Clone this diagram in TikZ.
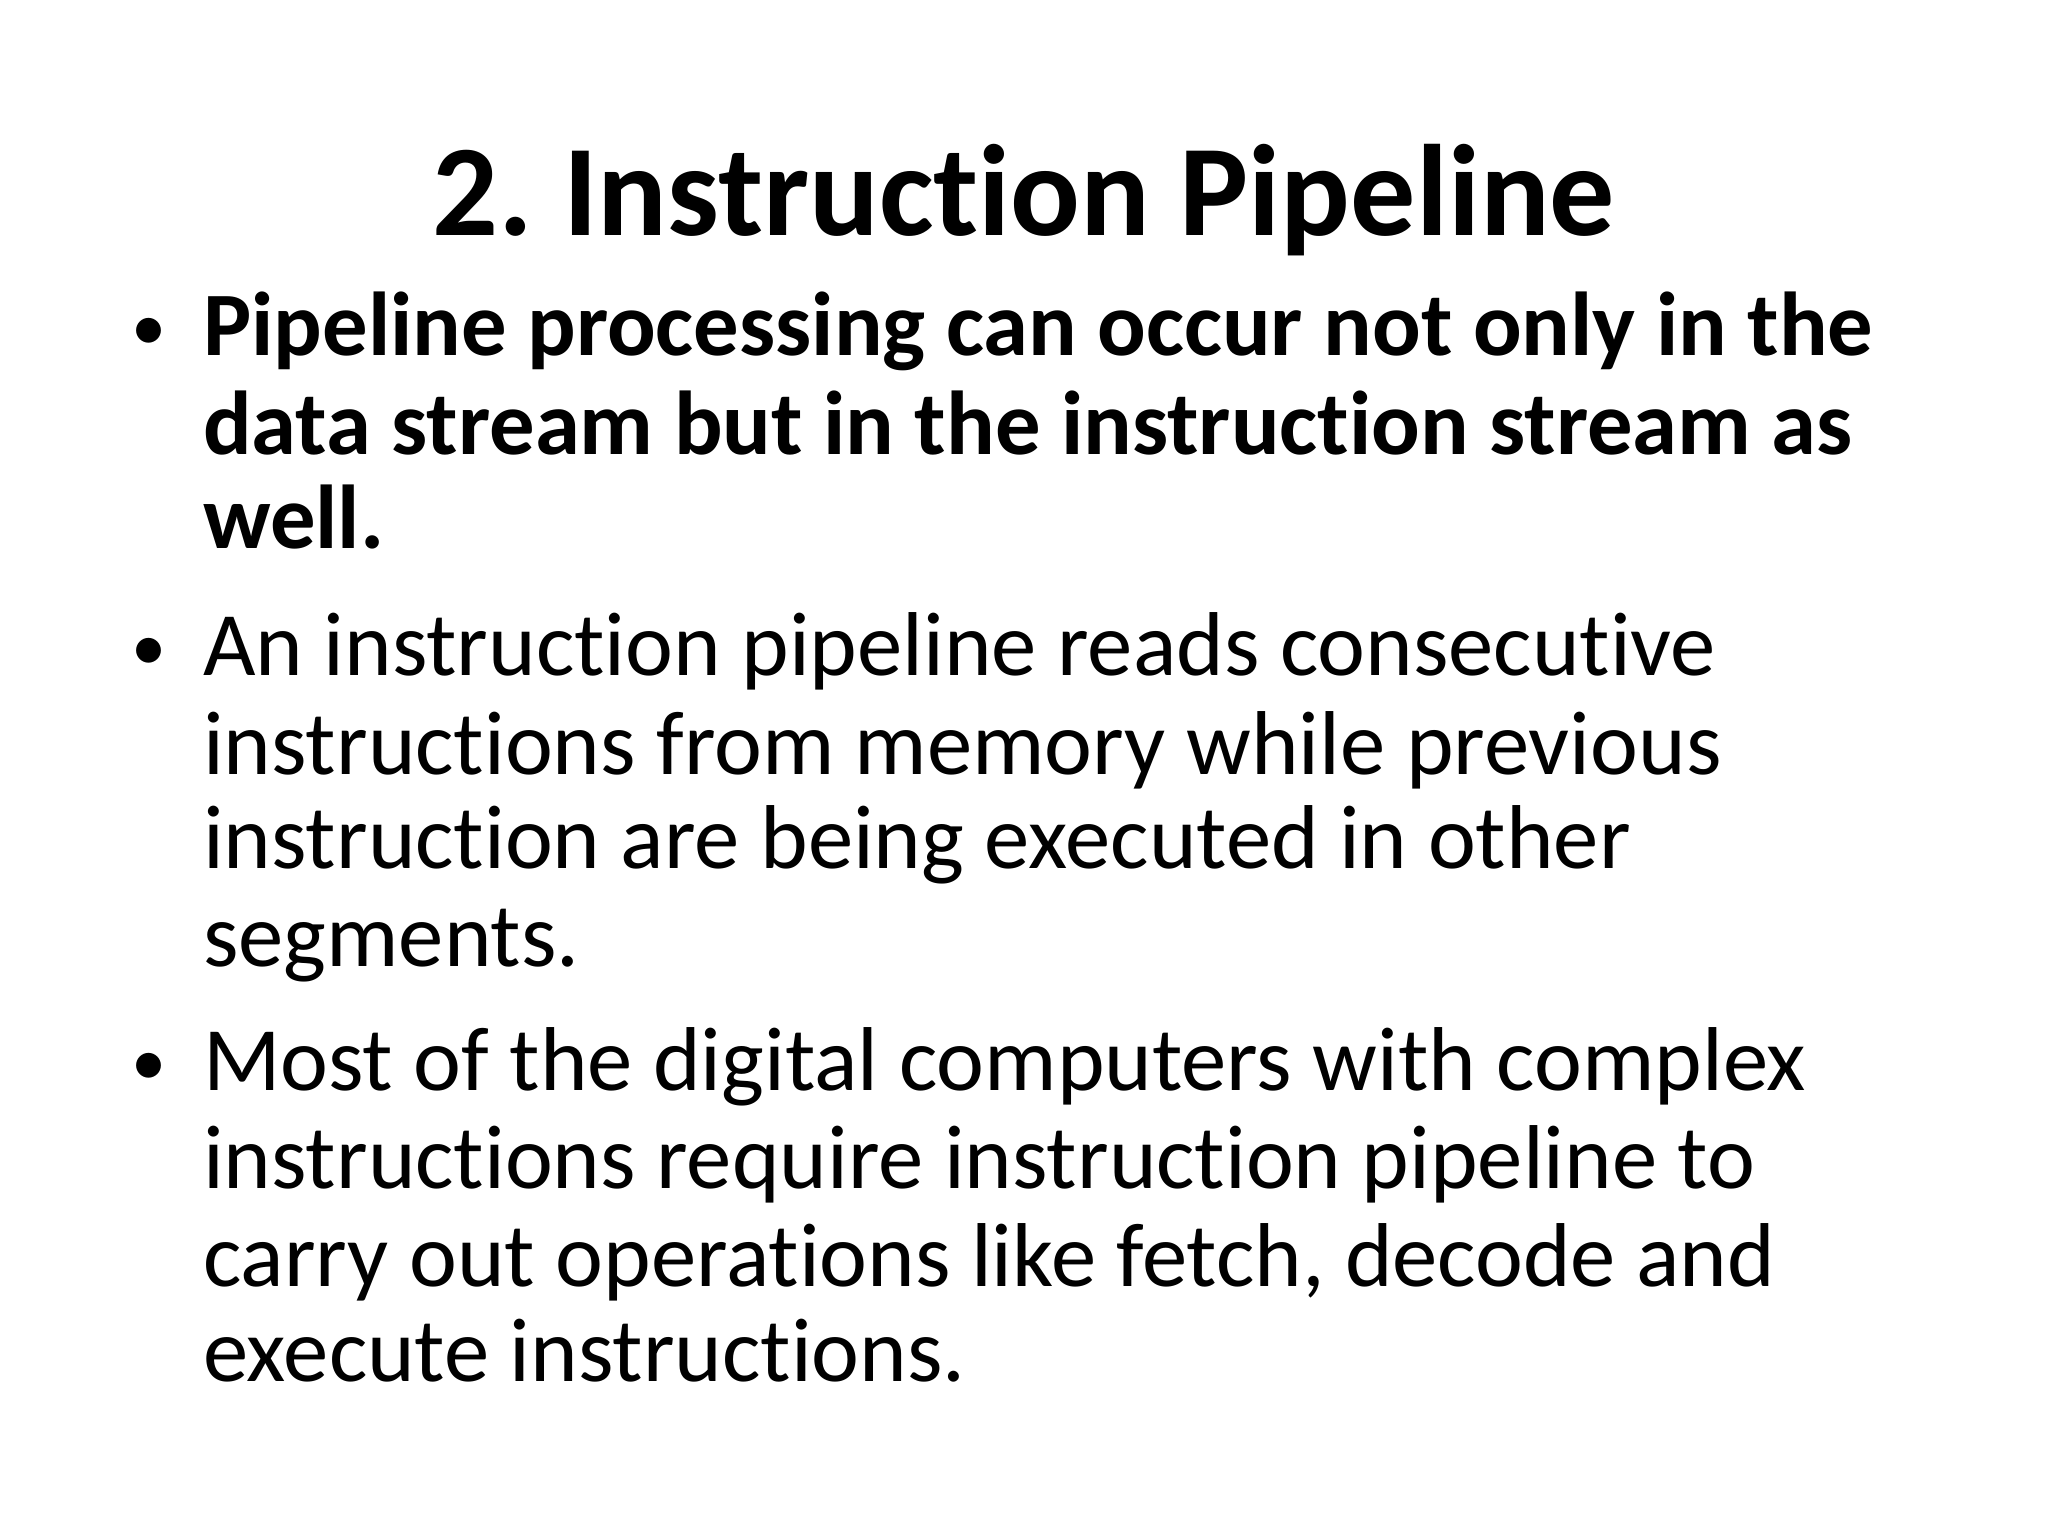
\documentclass[tikz,border=0pt]{standalone}
\usepackage{fontspec}
\setmainfont{Carlito}[RawFeature={-liga}]
\begin{document}
\frenchspacing
\begin{tikzpicture}[x=0.01306cm,y=-0.01306cm,
  ln/.style={anchor=base west,inner sep=0pt,font=\fontsize{25.8}{30}\selectfont},
  bl/.style={anchor=base west,inner sep=0pt,font=\fontsize{20}{24}\selectfont}]
\useasboundingbox (0,0) rectangle (1568,1176);
\node[anchor=base,inner sep=0pt,font=\fontsize{37}{44}\selectfont\bfseries] (title) at (784,180) {2. Instruction Pipeline};
\node[bl] (b1) at (100,268) {•};
\node[ln,font=\fontsize{25.8}{30}\selectfont\bfseries] (l1) at (155,272) {Pipeline processing can occur not only in the};
\node[ln,font=\fontsize{25.8}{30}\selectfont\bfseries] (l2) at (155,348) {data stream but in the instruction stream as};
\node[ln,font=\fontsize{25.8}{30}\selectfont\bfseries] (l3) at (155,420) {well.};
\node[bl] (b2) at (100,513) {•};
\node[ln] (l4) at (155,517) {An instruction pipeline reads consecutive};
\node[ln] (l5) at (155,593) {instructions from memory while previous};
\node[ln] (l6) at (155,665) {instruction are being executed in other};
\node[ln] (l7) at (155,740) {segments.};
\node[bl] (b3) at (100,831) {•};
\node[ln] (l8) at (155,835) {Most of the digital computers with complex};
\node[ln] (l9) at (155,910) {instructions require instruction pipeline to};
\node[ln] (l10) at (155,985) {carry out operations like fetch, decode and};
\node[ln] (l11) at (155,1058) {execute instructions.};
\end{tikzpicture}
\end{document}
